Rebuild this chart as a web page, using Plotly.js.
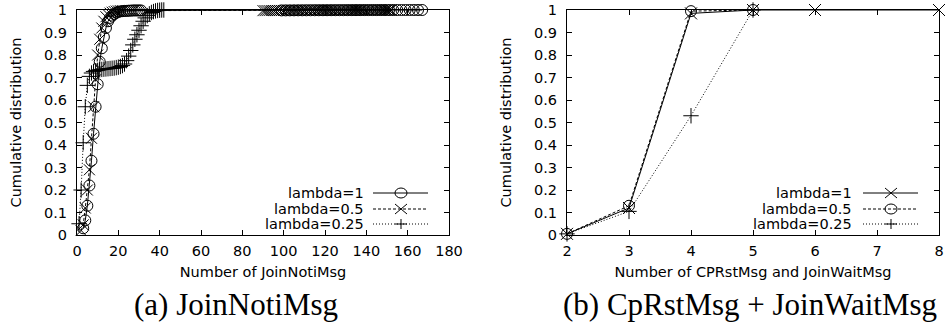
<!DOCTYPE html>
<html>
<head>
<meta charset="utf-8">
<script src="https://cdn.plot.ly/plotly-3.0.1.min.js"></script>
<style>
html,body{margin:0;padding:0;background:#fff;}
#chart{width:946px;height:326px;}
</style>
</head>
<body>
<div id="chart"></div>
<script>
// ---------- Panel (a): Number of JoinNotiMsg ----------
const joinTicks = [0, 20, 40, 60, 80, 100, 120, 140, 160, 180];
const cdfTicks = [0, 0.1, 0.2, 0.3, 0.4, 0.5, 0.6, 0.7, 0.8, 0.9, 1];

const joinL1X = [3,4,5,6,7,8,9,10,11,12,13,14,15,16,17,18,19,20,21,22,23,24,25,26,27,28,29,30,31,
  99,101,103,105,107,109,111,113,115,117,119,121,123,125,127,129,131,133,135,137,139,141,143,145,147,149,151,153,155,157,159,161,163,165,167];
const joinL1Y = [0.03,0.065,0.13,0.22,0.33,0.45,0.57,0.67,0.77,0.83,0.88,0.92,0.95,0.965,0.975,0.982,0.988,0.992,0.994,0.995,0.996,0.996,0.997,0.997,0.998,0.998,0.998,0.998,0.998,
  0.9982,0.9983,0.9984,0.9985,0.9986,0.9987,0.9988,0.9989,0.999,0.999,0.9991,0.9991,0.9992,0.9992,0.9993,0.9993,0.9994,0.9994,0.9995,0.9995,0.9996,0.9996,0.9997,0.9997,0.9998,0.9998,0.9998,0.9999,0.9999,0.9999,0.9999,1,1,1,1];

const joinL05X = [2,3,4,5,6,7,8,9,10,11,12,13,14,15,16,17,18,19,20,21,22,
  90,91,92,93,94,95,96,97,98,99,
  100,101,102,103,104,105,106,107,108,109,
  110,111,112,113,114,115,116,117,118,119,
  120,121,122,123,124,125,126,127,128,129,
  130,131,132,133,134,135,136,137,138,139,
  140,141,142,143,144,145,146,147,148,149,
  150,151,152];
const joinL05Y = [0.02,0.045,0.12,0.2,0.29,0.43,0.57,0.69,0.8,0.87,0.92,0.95,0.97,0.98,0.986,0.99,0.993,0.995,0.996,0.997,0.997,
  0.9972,0.9973,0.9974,0.9975,0.9976,0.9977,0.9978,0.9979,0.998,0.998,
  0.9981,0.9981,0.9982,0.9982,0.9983,0.9983,0.9984,0.9984,0.9985,0.9985,
  0.9986,0.9986,0.9987,0.9987,0.9988,0.9988,0.9989,0.9989,0.999,0.999,
  0.9991,0.9991,0.9992,0.9992,0.9993,0.9993,0.9994,0.9994,0.9995,0.9995,
  0.9996,0.9996,0.9996,0.9997,0.9997,0.9997,0.9998,0.9998,0.9998,0.9998,
  0.9999,0.9999,0.9999,0.9999,0.9999,1,1,1,1,1,
  1,1,1];

const joinL025X = [1,2,3,4,5,6,7,8,9,10,11,12,13,14,15,16,17,18,19,20,21,22,23,24,25,26,27,28,29,30,31,32,33,34,35,36,37,38,39,40,41,42];
const joinL025Y = [0.05,0.2,0.41,0.57,0.665,0.705,0.72,0.727,0.73,0.732,0.734,0.736,0.737,0.738,0.739,0.74,0.741,0.742,
  0.744,0.746,0.749,0.753,0.76,0.775,0.795,0.82,0.845,0.87,0.89,0.91,0.93,0.95,0.965,0.975,0.983,0.989,0.993,0.996,0.998,0.999,1,1];

// ---------- Panel (b): Number of CPRstMsg and JoinWaitMsg ----------
const cpTicks = [2, 3, 4, 5, 6, 7, 8];
const cpL1X = [2, 3, 4, 5, 6, 8];
const cpL1Y = [0.005, 0.12, 0.985, 1, 1, 1];
const cpL05X = [2, 3, 4, 5];
const cpL05Y = [0.005, 0.13, 0.995, 1];
const cpL025X = [2, 3, 4, 5];
const cpL025Y = [0.005, 0.105, 0.53, 1];

const seriesNames = ['lambda=1', 'lambda=0.5', 'lambda=0.25'];
const captions = ['(a) JoinNotiMsg', '(b) CpRstMsg + JoinWaitMsg'];
const xTitles = ['Number of JoinNotiMsg', 'Number of CPRstMsg and JoinWaitMsg'];
const yTitle = 'Cumulative distribution';

// ---------- styling ----------
const W = 946, H = 326;
const px = v => v / W;
const py = v => 1 - v / H;
const SANS = 'DejaVu Sans';
const FS = 14.5;
const DASH = '3px,2px';
const DOT = '1px,2px';

function tr(x, y, xa, ya, symbol, dash, size) {
  return {
    x: x, y: y, xaxis: xa, yaxis: ya, type: 'scatter', mode: 'lines+markers',
    cliponaxis: false, showlegend: false, hoverinfo: 'skip',
    line: {color: '#000', width: 1, dash: dash},
    marker: {symbol: symbol, size: size, color: '#000', line: {color: '#000', width: 1}}
  };
}

const data = [
  tr(joinL1X, joinL1Y, 'x', 'y', 'circle-open', 'solid', 11),
  tr(joinL05X, joinL05Y, 'x', 'y', 'x-thin-open', DASH, 11),
  tr(joinL025X, joinL025Y, 'x', 'y', 'cross-thin-open', DOT, 11),
  tr(cpL1X, cpL1Y, 'x2', 'y2', 'x-thin-open', 'solid', 12),
  tr(cpL05X, cpL05Y, 'x2', 'y2', 'circle-open', DASH, 11),
  tr(cpL025X, cpL025Y, 'x2', 'y2', 'cross-thin-open', DOT, 11)
];

const tickFont = {family: SANS, size: FS, color: '#000'};
function axis(extra) {
  return Object.assign({
    showline: true, linecolor: '#000', linewidth: 1, mirror: 'ticks',
    ticks: 'inside', ticklen: 5, tickwidth: 1, tickcolor: '#000',
    showgrid: false, zeroline: false, tickfont: tickFont, fixedrange: true
  }, extra);
}

const yDom = [py(235), py(10)];

const layout = {
  width: W, height: H,
  margin: {l: 0, r: 0, t: 0, b: 0},
  paper_bgcolor: '#fff', plot_bgcolor: '#fff',
  showlegend: false,
  xaxis: axis({domain: [px(77), px(449)], range: [0, 180], tickmode: 'array', tickvals: joinTicks,
    ticklabelstandoff: 3, anchor: 'y',
    title: {text: xTitles[0], font: tickFont, standoff: 8}}),
  yaxis: axis({domain: yDom, range: [0, 1], tickmode: 'array', tickvals: cdfTicks, ticktext: cdfTicks.map(String),
    ticklabelstandoff: 6, anchor: 'x',
    title: {text: yTitle, font: tickFont, standoff: 18}}),
  xaxis2: axis({domain: [px(567), px(939)], range: [2, 8], tickmode: 'array', tickvals: cpTicks,
    ticklabelstandoff: 3, anchor: 'y2',
    title: {text: xTitles[1], font: tickFont, standoff: 8}}),
  yaxis2: axis({domain: yDom, range: [0, 1], tickmode: 'array', tickvals: cdfTicks, ticktext: cdfTicks.map(String),
    ticklabelstandoff: 6, anchor: 'x2',
    title: {text: yTitle, font: tickFont, standoff: 18}}),
  annotations: [],
  shapes: []
};

// captions
layout.annotations.push({xref: 'paper', yref: 'paper', x: px(236), y: py(304), xanchor: 'center', yanchor: 'middle',
  showarrow: false, text: captions[0], font: {family: 'Liberation Serif', size: 31, color: '#000'}});
layout.annotations.push({xref: 'paper', yref: 'paper', x: px(750), y: py(304), xanchor: 'center', yanchor: 'middle',
  showarrow: false, text: captions[1], font: {family: 'Liberation Serif', size: 31, color: '#000'}});

// legends (gnuplot style: text, then line sample with marker)
const rowsY = [193, 209, 224];
const dashes = ['solid', DASH, DOT];
function markerShape(kind, cx, cy) {
  const base = {xref: 'paper', yref: 'paper', xsizemode: 'pixel', ysizemode: 'pixel',
    xanchor: px(cx), yanchor: py(cy), line: {color: '#000', width: 1}};
  if (kind === 'circle-open') return Object.assign(base, {type: 'circle', x0: -6, x1: 6, y0: -5, y1: 5});
  if (kind === 'x-thin-open') return Object.assign(base, {type: 'path', path: 'M-6,-5L6,5M-6,5L6,-5'});
  return Object.assign(base, {type: 'path', path: 'M-6,0L6,0M0,-5L0,5'});
}
function legend(textRight, lineX0, lineX1, markX, symbols) {
  seriesNames.forEach((name, i) => {
    layout.annotations.push({xref: 'paper', yref: 'paper', x: px(textRight), y: py(rowsY[i]),
      xanchor: 'right', yanchor: 'middle', showarrow: false, text: name, font: tickFont});
    layout.shapes.push({type: 'line', xref: 'paper', yref: 'paper', x0: px(lineX0), x1: px(lineX1),
      y0: py(rowsY[i]), y1: py(rowsY[i]), line: {color: '#000', width: 1, dash: dashes[i]}});
    layout.shapes.push(markerShape(symbols[i], markX, rowsY[i]));
  });
}
legend(366, 373, 428, 401, ['circle-open', 'x-thin-open', 'cross-thin-open']);
legend(854, 863, 918, 891, ['x-thin-open', 'circle-open', 'cross-thin-open']);

Plotly.newPlot('chart', data, layout, {staticPlot: true, displayModeBar: false});
</script>
</body>
</html>
